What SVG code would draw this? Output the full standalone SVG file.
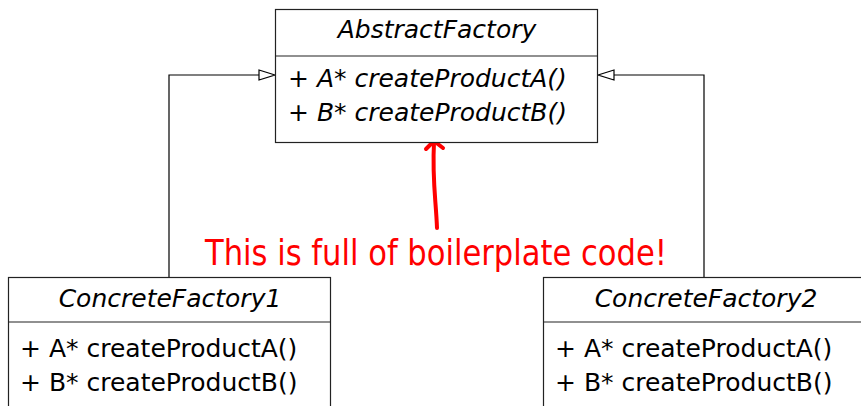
<svg xmlns="http://www.w3.org/2000/svg" width="861" height="406" viewBox="0 0 861 406">
  <style>
    .box { fill: #fff; stroke: #222; stroke-width: 1.2; }
    .div { stroke: #222; stroke-width: 1.2; }
    .t { font-family: "DejaVu Sans", "Liberation Sans", sans-serif; font-size: 25px; fill: #000; }
    .it { font-style: italic; }
    .edge { fill: none; stroke: #000; stroke-width: 1.2; }
    .head { fill: #fff; stroke: #000; stroke-width: 1.2; }
    .note { font-family: "DejaVu Sans", "Liberation Sans", sans-serif; font-size: 36px; fill: #ff0000; }
  </style>

  <g id="connectors">
    <path class="edge" d="M169,277 V75 H259"/>
    <polygon class="head" points="275,75 259,70 259,80"/>
    <path class="edge" d="M704,277 V75 H614"/>
    <polygon class="head" points="598,75 614,70 614,80"/>
    <path d="M437,228 C436,200 432,180 434,142" fill="none" stroke="#ff0000" stroke-width="4" stroke-linecap="round"/>
    <path d="M426,149 L434,141 L443,148" fill="none" stroke="#ff0000" stroke-width="4" stroke-linecap="round" stroke-linejoin="round"/>
  </g>

  <g id="AbstractFactory">
    <rect class="box" x="275.5" y="9.5" width="322" height="133"/>
    <line class="div" x1="275.5" y1="56" x2="597.5" y2="56"/>
    <text class="t it" x="437" y="38" text-anchor="middle">AbstractFactory</text>
    <text class="t it" x="288" y="87">+ A* createProductA()</text>
    <text class="t it" x="288" y="121">+ B* createProductB()</text>
  </g>

  <g id="ConcreteFactory1">
    <rect class="box" x="8.5" y="277.5" width="322" height="140"/>
    <line class="div" x1="8.5" y1="322" x2="330.5" y2="322"/>
    <text class="t it" x="170" y="307" text-anchor="middle">ConcreteFactory1</text>
    <text class="t" x="20" y="357">+ A* createProductA()</text>
    <text class="t" x="20" y="391">+ B* createProductB()</text>
  </g>

  <g id="ConcreteFactory2">
    <rect class="box" x="543.5" y="277.5" width="322" height="140"/>
    <line class="div" x1="543.5" y1="322" x2="865.5" y2="322"/>
    <text class="t it" x="706" y="307" text-anchor="middle">ConcreteFactory2</text>
    <text class="t" x="555" y="357">+ A* createProductA()</text>
    <text class="t" x="555" y="391">+ B* createProductB()</text>
  </g>

  <g id="note">
    <text class="note" x="205" y="265" textLength="462" lengthAdjust="spacingAndGlyphs">This is full of boilerplate code!</text>
  </g>
</svg>
